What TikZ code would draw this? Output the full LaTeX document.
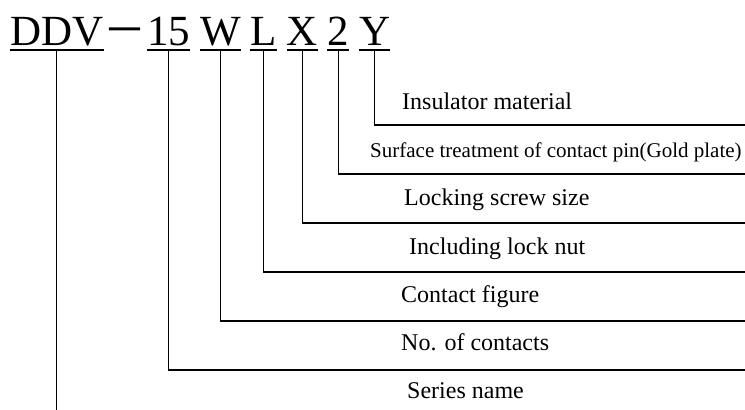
\documentclass[tikz,border=0pt]{standalone}
\usepackage{fontspec}
\setmainfont{Liberation Serif}
\newfontfamily\cjkfont{Noto Sans CJK SC}
\usetikzlibrary{positioning}

\begin{document}
\begin{tikzpicture}[
        x=1pt, y=-1pt,
        part/.style={inner sep=0pt, text depth=5pt, font=\fontsize{43}{43}\selectfont},
        desc/.style={inner sep=0pt, anchor=base west, font=\fontsize{24}{24}\selectfont},
        rule/.style={line width=1.9pt},
        link/.style={line width=1.4pt}
    ]
        \useasboundingbox (0,0) rectangle (745,410);

        % Model code
        \node[part, anchor=base west] (ddv) at (10,45) {DDV};
        \node[part, base right=0pt of ddv] (dash) {\cjkfont －};
        \node[part, base right=0pt of dash] (num) {15};
        \node[part, base right=9.5pt of num] (fig) {W};
        \node[part, base right=9.5pt of fig] (nut) {L};
        \node[part, base right=9.5pt of nut] (scr) {X};
        \node[part, base right=9.5pt of scr] (pin) {2};
        \node[part, base right=9.5pt of pin] (mat) {Y};

        % Underlines
        \foreach \p in {ddv,num,fig,nut,scr,pin,mat}
            \draw[rule] (\p.south west) -- (\p.south east);

        % Descriptions
        \node[desc] (matdesc) at (402,109) {Insulator material};
        \node[desc, font=\fontsize{21}{21}\selectfont] (pindesc) at (370,157) {Surface treatment of contact pin(Gold plate)};
        \node[desc] (scrdesc) at (404,205) {Locking screw size};
        \node[desc] (nutdesc) at (409,254) {Including lock nut};
        \node[desc] (figdesc) at (401,302) {Contact figure};
        \node[desc] (numdesc) at (401,350) {No. of contacts};
        \node[desc] (ddvdesc) at (407,398) {Series name};

        % Ends of the leaders
        \coordinate (matend) at (745,125);
        \coordinate (pinend) at (745,174);
        \coordinate (scrend) at (745,223);
        \coordinate (nutend) at (745,272);
        \coordinate (figend) at (745,321);
        \coordinate (numend) at (745,370);
        \coordinate (ddvend) at (ddv.south |- 0,410);

        % Leaders
        \foreach \p in {mat,pin,scr,nut,fig,num}
            \draw[link] (\p.south) |- (\p end);
        \draw[link] (ddv.south) -- (ddvend);

    \end{tikzpicture}
\end{document}
